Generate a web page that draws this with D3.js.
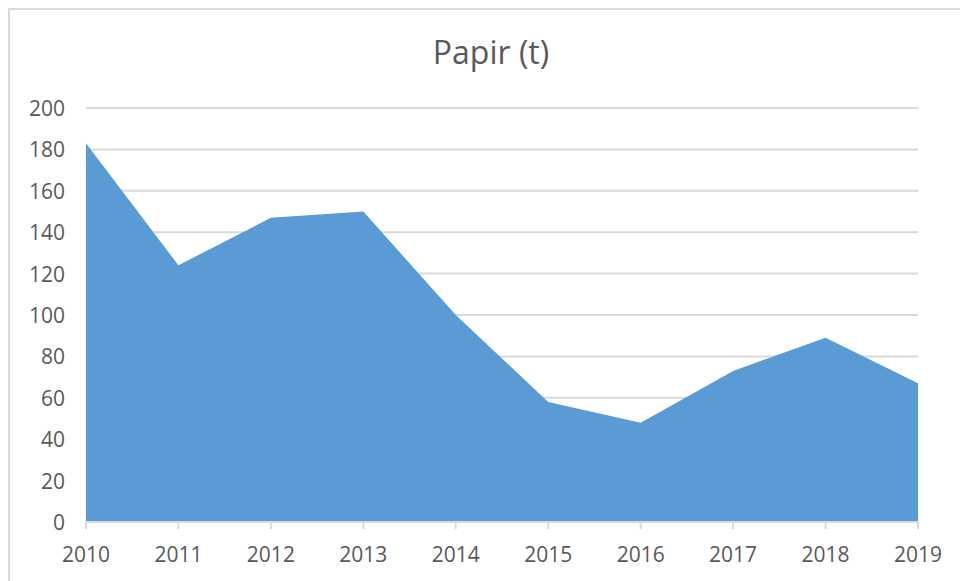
<!DOCTYPE html>
<html>
<head>
<meta charset="utf-8">
<script src="https://cdn.jsdelivr.net/npm/d3@7"></script>
<style>
  html, body { margin: 0; padding: 0; background: #fff; overflow: hidden; }
  text { font-family: 'Open Sans', 'Noto Sans', sans-serif; fill: #595959; }
</style>
</head>
<body>
<div id="chart"></div>
<script>
// Papir (t) per year
const years = ['2010', '2011', '2012', '2013', '2014', '2015', '2016', '2017', '2018', '2019'];
const tonnes = [183, 124, 147, 150, 100, 58, 48, 73, 89, 67];
const yTicks = [0, 20, 40, 60, 80, 100, 120, 140, 160, 180, 200];

const size = { width: 960, height: 581 };
const margin = { top: 108, right: 42, bottom: 59, left: 86 };

const svg = d3.select('#chart')
  .append('svg')
  .attr('width', size.width)
  .attr('height', size.height);

// chart frame (only top and left edges are inside the picture)
svg.append('rect')
  .attr('x', 9)
  .attr('y', 9)
  .attr('width', size.width + 20)
  .attr('height', size.height + 20)
  .attr('fill', 'none')
  .attr('stroke', '#d9d9d9')
  .attr('stroke-width', 2);

svg.append('text')
  .text('Papir (t)')
  .attr('x', 491)
  .attr('y', 64)
  .attr('text-anchor', 'middle')
  .style('font-size', '32px');

/**
 * Scales
 */
const x = d3.scalePoint()
  .domain(years)
  .range([margin.left, size.width - margin.right]);

const y = d3.scaleLinear()
  .domain([0, 200])
  .range([size.height - margin.bottom, margin.top]);

// gridlines
svg.append('g')
  .selectAll('line')
  .data(yTicks.slice(1))
  .enter()
  .append('line')
  .attr('x1', margin.left)
  .attr('x2', size.width - margin.right)
  .attr('y1', (d) => y(d))
  .attr('y2', (d) => y(d))
  .attr('stroke', '#d9d9d9')
  .attr('stroke-width', 2);

// the area
const area = d3.area()
  .x((d, i) => x(years[i]))
  .y0(y(0))
  .y1((d) => y(d));

svg.append('path')
  .datum(tonnes)
  .attr('d', area)
  .attr('fill', '#5b9bd5');

// x axis line + ticks
svg.append('line')
  .attr('x1', margin.left)
  .attr('x2', size.width - margin.right)
  .attr('y1', y(0))
  .attr('y2', y(0))
  .attr('stroke', '#d9d9d9')
  .attr('stroke-width', 2);

svg.append('g')
  .selectAll('line')
  .data(years)
  .enter()
  .append('line')
  .attr('x1', (d) => x(d))
  .attr('x2', (d) => x(d))
  .attr('y1', y(0))
  .attr('y2', y(0) + 7)
  .attr('stroke', '#d9d9d9')
  .attr('stroke-width', 2);

svg.append('g')
  .selectAll('text')
  .data(years)
  .enter()
  .append('text')
  .text((d) => d)
  .attr('x', (d) => x(d))
  .attr('y', 562)
  .attr('text-anchor', 'middle')
  .style('font-size', '21px');

// y labels
svg.append('g')
  .selectAll('text')
  .data(yTicks)
  .enter()
  .append('text')
  .text((d) => d)
  .attr('x', 65)
  .attr('y', (d) => y(d) + 8)
  .attr('text-anchor', 'end')
  .style('font-size', '21px');
</script>
</body>
</html>
